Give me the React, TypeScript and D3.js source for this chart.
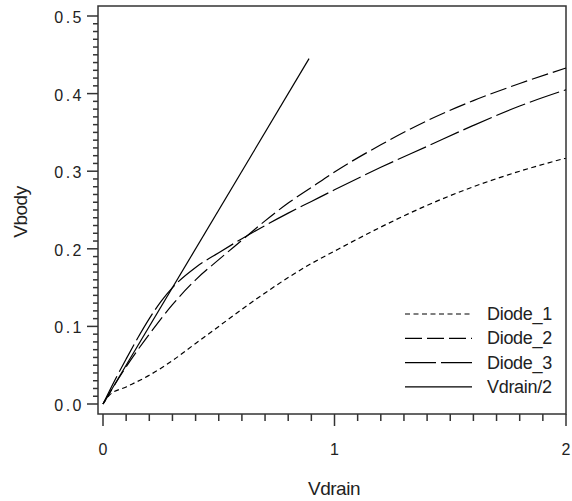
import React from "react";
import * as d3 from "d3";

const diode1X = [0, 0.03, 0.1, 0.2, 0.3, 0.4, 0.5, 0.6, 0.7, 0.8, 0.9, 1.0, 1.2, 1.4, 1.6, 1.8, 2.0];
const diode1Y = [0, 0.012, 0.022, 0.037, 0.056, 0.078, 0.1, 0.122, 0.143, 0.163, 0.181, 0.197, 0.228, 0.256, 0.28, 0.3, 0.317];

const diode2X = [0, 0.1, 0.2, 0.3, 0.4, 0.5, 0.6, 0.7, 0.8, 0.9, 1.0, 1.2, 1.4, 1.6, 1.8, 2.0];
const diode2Y = [0, 0.048, 0.09, 0.128, 0.16, 0.186, 0.211, 0.236, 0.259, 0.279, 0.299, 0.334, 0.365, 0.391, 0.413, 0.433];

const diode3X = [0, 0.05, 0.1, 0.15, 0.2, 0.25, 0.3, 0.4, 0.5, 0.6, 0.7, 0.8, 0.9, 1.0, 1.2, 1.4, 1.6, 1.8, 2.0];
const diode3Y = [0, 0.03, 0.058, 0.085, 0.11, 0.132, 0.15, 0.176, 0.195, 0.213, 0.23, 0.246, 0.261, 0.276, 0.305, 0.332, 0.359, 0.384, 0.405];

const vdrainX = [0, 0.89];
const vdrainY = vdrainX.map((v) => v / 2);

const seriesNames = ["Diode_1", "Diode_2", "Diode_3", "Vdrain/2"];
const dashes = ["5,3.5", "17,5", "31,5", ""];

const xMajor = [0, 1, 2];
const xLabels = ["0", "1", "2"];
const yMajor = [0, 0.1, 0.2, 0.3, 0.4, 0.5];
const yLabels = ["0.0", "0.1", "0.2", "0.3", "0.4", "0.5"];

export default function App() {
  const W = 572, H = 501;
  const x = d3.scaleLinear().domain([0, 2]).range([103, 566]);
  const y = d3.scaleLinear().domain([0, 0.5]).range([404, 16]);
  const frame = { l: 98, t: 6, r: 566, b: 414 };

  const line = d3
    .line<[number, number]>()
    .x((d) => x(d[0]))
    .y((d) => y(d[1]))
    .curve(d3.curveMonotoneX);

  const series = [
    d3.zip(diode1X, diode1Y) as [number, number][],
    d3.zip(diode2X, diode2Y) as [number, number][],
    d3.zip(diode3X, diode3Y) as [number, number][],
    d3.zip(vdrainX, vdrainY) as [number, number][],
  ];

  const xMinor = d3.range(0, 21).map((i) => i / 10).filter((v) => Math.abs(v - Math.round(v)) > 1e-9);
  const yMinor = d3.range(0, 51).map((i) => i / 100).filter((v) => Math.abs(v * 10 - Math.round(v * 10)) > 1e-9);

  const font = "'Liberation Sans', Arial, sans-serif";
  const axisColor = "#333";

  return (
    <svg width={W} height={H} style={{ position: "absolute", left: 0, top: 0, background: "#fff" }}>
      <rect x={0} y={0} width={W} height={H} fill="#fff" />
      <rect x={frame.l} y={frame.t} width={frame.r - frame.l} height={frame.b - frame.t} fill="none" stroke={axisColor} strokeWidth={1.5} />
      {xMajor.map((v) => (
        <line key={"xM" + v} x1={x(v)} x2={x(v)} y1={frame.b} y2={frame.b + 12} stroke={axisColor} strokeWidth={1.5} />
      ))}
      {xMinor.map((v) => (
        <line key={"xm" + v} x1={x(v)} x2={x(v)} y1={frame.b} y2={frame.b + 7} stroke={axisColor} strokeWidth={1.5} />
      ))}
      {xMajor.map((v, i) => (
        <text key={"xl" + v} x={x(v)} y={455} textAnchor="middle" fontFamily={font} fontSize={16} fill="#222">
          {xLabels[i]}
        </text>
      ))}
      {yMajor.map((v) => (
        <line key={"yM" + v} x1={frame.l - 11} x2={frame.l} y1={y(v)} y2={y(v)} stroke={axisColor} strokeWidth={1.5} />
      ))}
      {yMinor.map((v) => (
        <line key={"ym" + v} x1={frame.l - 5} x2={frame.l} y1={y(v)} y2={y(v)} stroke={axisColor} strokeWidth={1.5} />
      ))}
      {yMajor.map((v, i) => (
        <text key={"yl" + v} x={84} y={y(v) + 7} textAnchor="end" fontFamily={font} fontSize={16} letterSpacing={2.5} fill="#222">
          {yLabels[i]}
        </text>
      ))}
      <text x={334} y={495} textAnchor="middle" fontFamily={font} fontSize={19} letterSpacing={-0.5} fill="#222">
        Vdrain
      </text>
      <text transform="translate(27,212) rotate(-90)" textAnchor="middle" fontFamily={font} fontSize={19} letterSpacing={-0.5} fill="#222">
        Vbody
      </text>
      {series.map((s, i) => (
        <path key={"s" + i} d={line(s) || ""} fill="none" stroke="#000" strokeWidth={1.2} strokeDasharray={dashes[i] || undefined} />
      ))}
      {seriesNames.map((n, i) => {
        const ly = 314 + i * 24.3;
        return (
          <g key={"lg" + i}>
            <line x1={405} x2={472} y1={ly} y2={ly} stroke="#000" strokeWidth={1.2} strokeDasharray={dashes[i] || undefined} />
            <text x={487} y={ly + 6} fontFamily={font} fontSize={18} letterSpacing={-0.3} fill="#222">
              {n}
            </text>
          </g>
        );
      })}
    </svg>
  );
}
